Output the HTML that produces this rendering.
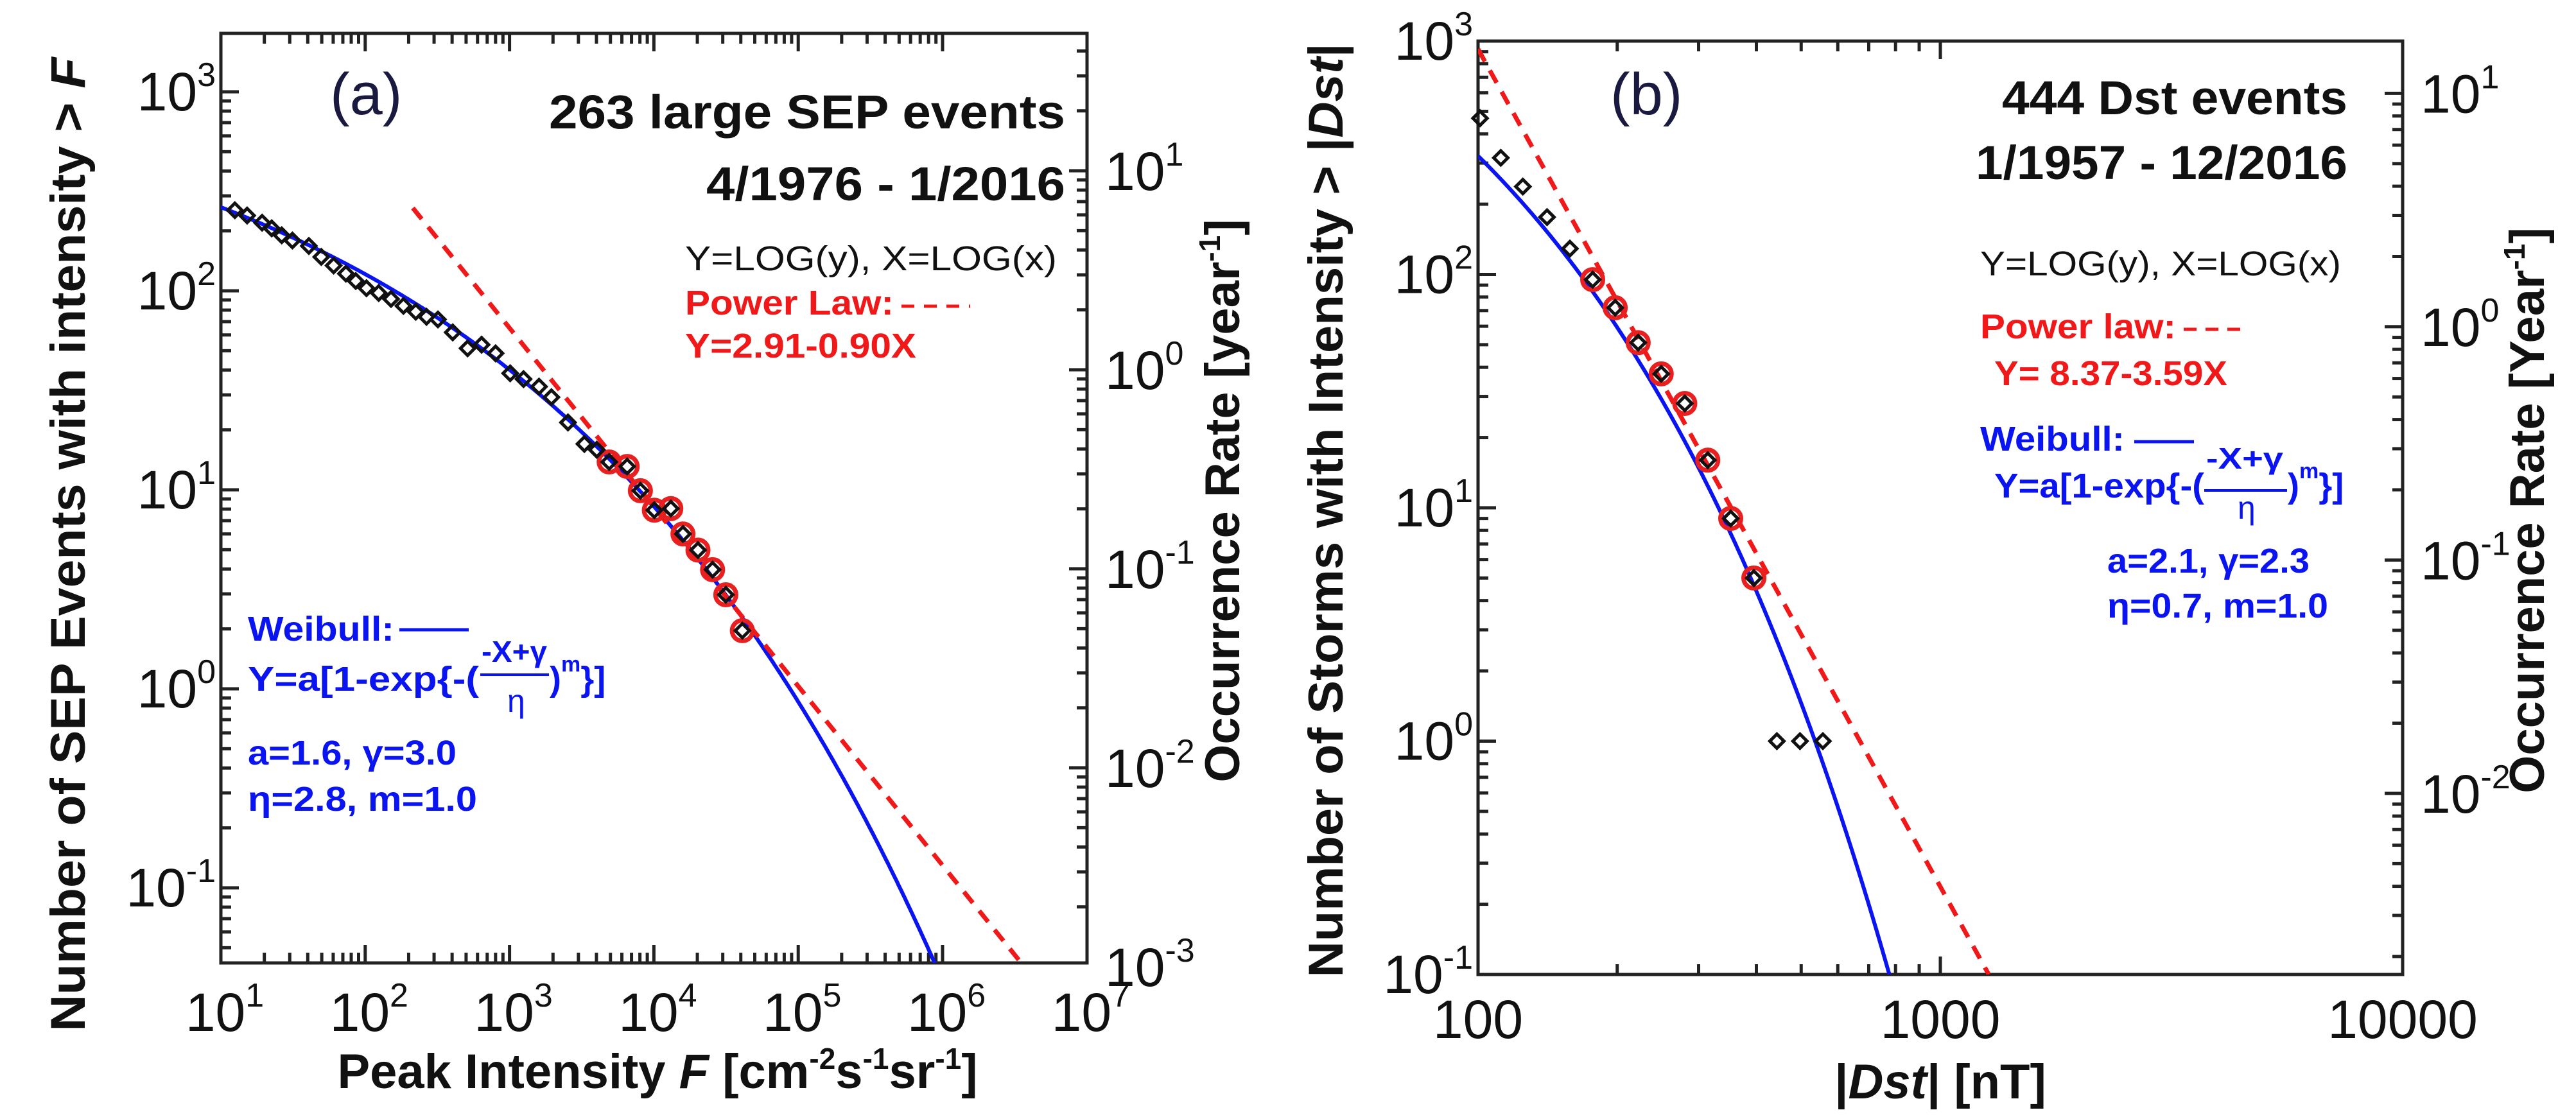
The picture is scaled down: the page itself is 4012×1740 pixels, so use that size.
<!DOCTYPE html>
<html><head><meta charset="utf-8">
<style>
html,body{margin:0;padding:0;background:#fff;width:4012px;height:1740px;overflow:hidden;}
svg{display:block;font-family:"Liberation Sans",Arial,sans-serif;}
</style></head>
<body>
<svg id="fig" xmlns="http://www.w3.org/2000/svg" width="4012" height="1740" viewBox="0 0 4012 1740">
<rect x="0" y="0" width="4012" height="1740" fill="#fff"/>
<defs>
<clipPath id="clipA"><rect x="344" y="52" width="1349" height="1448"/></clipPath>
<clipPath id="clipB"><rect x="2302" y="64" width="1440" height="1454"/></clipPath>
</defs>
<g id="gA"></g>
<g id="gB"></g>
</svg>
<script>
// ---------- Panel (a) data ----------
const aBlackX = [12.5,15.2,19.3,22.5,26.4,31.3,40.7,49.6,60.4,73.5,86,102,124,151,184,224,266,319,404,512,640,800,1010,1250,1600,1950,2540,3300,4020];
const aBlackY = [254,239,220,206,190,179,168,148,134,122,112,103,97.5,91,84,78.5,74,71.8,61.8,51.4,53.6,48.5,38.5,36,33,29.2,21.8,17,15.9];
const aRedX = [4900,6530,8060,10070,13100,15900,20200,25500,31500,41000];
const aRedY = [13.8,13.1,9.9,7.9,8.05,6.0,4.98,3.97,2.97,1.96];
const aPower = [2.91, -0.90];
const aWeibull = [1.6, 3.0, 2.8, 1.0];
const aYears = 40.1;
const aXTicks = [1,2,3,4,5,6,7];
const aYTicks = [-1,0,1,2,3];
const aRTicks = [-3,-2,-1,0,1];

// ---------- Panel (b) data ----------
const bBlackX = [101,112,125,141,158,443,497,557];
const bBlackY = [467,316,238,176,129,1,1,1];
const bRedX = [177,198,222,249,280,314,352,395];
const bRedY = [95,72,51,37.5,28,16,9,5];
const bPower = [8.37, -3.59];
const bWeibull = [2.1, 2.3, 0.7, 1.0];
const bYears = 59.7;
const bXTickLabels = ["100","1000","10000"];
const bXTicks = [100,1000,10000];
const bYTicks = [-1,0,1,2,3];
const bRTicks = [-2,-1,0,1];

const NS = "http://www.w3.org/2000/svg";
function mk(parent, tag, attrs){
  const e = document.createElementNS(NS, tag);
  for (const k in attrs) e.setAttribute(k, attrs[k]);
  parent.appendChild(e);
  return e;
}
const L = Math.log10;

function panel(g, P){
  const xs = v => P.x0 + (L(v) - P.lx0) * P.dx;
  const ys = v => P.yT + (P.ly0 - L(v)) * P.dy;
  const box = mk(g,'rect',{x:P.x0,y:P.top,width:P.x1-P.x0,height:P.bot-P.top,fill:'none',stroke:'#222','stroke-width':5});
  
  
  for (let d = P.xd0; d < P.xd1 + 1; d++){
    for (let m = 1; m <= 9; m++){
      const v = m * Math.pow(10, d);
      if (L(v) > P.xd1 + 1e-9) break;
      const x = xs(v);
      const len = m===1 ? 28 : 16;
      const t1 = mk(g,'line',{x1:x,y1:P.bot,x2:x,y2:P.bot-len,stroke:'#222','stroke-width':5});
      
      
      const t2 = mk(g,'line',{x1:x,y1:P.top,x2:x,y2:P.top+len,stroke:'#222','stroke-width':5});
      
      
    }
  }
  for (let d = -3; d <= 4; d++){
    for (let m = 1; m <= 9; m++){
      const v = m*Math.pow(10,d);
      const y = ys(v);
      if (y < P.top+2 || y > P.bot-2) continue;
      const len = m===1 ? 28 : 16;
      const t = mk(g,'line',{x1:P.x0,y1:y,x2:P.x0+len,y2:y,stroke:'#222','stroke-width':5});
      
      
    }
  }
  for (let d = -4; d <= 2; d++){
    for (let m = 1; m <= 9; m++){
      const r = m*Math.pow(10,d);
      const y = ys(r*P.years);
      if (y < P.top+2 || y > P.bot-2) continue;
      const len = m===1 ? 28 : 16;
      const t = mk(g,'line',{x1:P.x1,y1:y,x2:P.x1-len,y2:y,stroke:'#222','stroke-width':5});
      
      
    }
  }
  P.yTicks.forEach(e=>{
    const y = ys(Math.pow(10,e));
    const t = mk(g,'text',{x:P.x0-8,y:y+29,'text-anchor':'end','font-size':84,fill:'#111'});
    
    
    t.innerHTML = '10<tspan dy="-38" font-size="52">'+e+'</tspan>';
  });
  P.rTicks.forEach(e=>{
    const y = ys(Math.pow(10,e)*P.years);
    const t = mk(g,'text',{x:P.x1+28,y:y+30,'text-anchor':'start','font-size':84,fill:'#111'});
    
    
    t.innerHTML = '10<tspan dy="-38" font-size="52">'+e+'</tspan>';
  });
  const cg = mk(g,'g',{'clip-path':'url(#'+P.clip+')'});
  
  
  const off = L(P.years);
  let d='';
  for (let i=0;i<=800;i++){
    const X = P.lx0 + (P.xd1+1-P.lx0)*i/800;
    const [a,gm,eta,m] = P.weib;
    const Y = a*(1-Math.exp(-(gm-X)/eta));
    let py = P.yT + (P.ly0 - (Y+off)) * P.dy;
    const px = xs(Math.pow(10,X));
    if (py > P.bot){ d += 'L'+px.toFixed(1)+','+P.bot; break; }
    d += (i?'L':'M')+px.toFixed(1)+','+py.toFixed(1);
  }
  const wl = mk(cg,'path',{d:d,fill:'none',stroke:'#0a14f0','stroke-width':6});
  
  
  // power law: from pStart to where it hits bottom axis
  const lyBot = P.ly0 - (P.bot - P.yT)/P.dy;
  let X0 = P.pStart;
  let X1 = (lyBot - off - P.pow[0]) / P.pow[1];
  X1 = Math.min(X1, P.xd1+1);
  const pyOf = X => P.yT + (P.ly0 - (P.pow[0]+P.pow[1]*X+off)) * P.dy;
  const pl = mk(cg,'line',{x1:xs(Math.pow(10,X0)),y1:Math.max(pyOf(X0),P.top),x2:xs(Math.pow(10,X1)),y2:pyOf(X1),stroke:'#f01818','stroke-width':7,'stroke-dasharray':'22 16'});
  
  
  P.rx.forEach((v,i)=>{
    const c = mk(g,'circle',{cx:xs(v),cy:ys(P.ry[i]),r:16,fill:'none',stroke:'#e82020','stroke-width':7});
    
    
  });
  const allX = P.bx.concat(P.rx), allY = P.by.concat(P.ry);
  allX.forEach((v,i)=>{
    const x = xs(v), y = ys(allY[i]), s = 11;
    const p = mk(g,'path',{d:`M${x-s},${y}L${x},${y-s}L${x+s},${y}L${x},${y+s}Z`,fill:'none',stroke:'#111','stroke-width':5});
    
    
  });
  return {xs,ys};
}

function txt(g, x, y, html, attrs){
  const a = Object.assign({x:x,y:y,fill:'#111'}, attrs||{});
  const t = mk(g,'text',a);
  t.innerHTML = html;
  return t;
}

const gA = document.getElementById('gA');
const A = panel(gA,{x0:344,x1:1693,top:52,bot:1500,lx0:1,dx:224.8,yT:143,ly0:3,dy:310,
  xd0:1,xd1:6,years:aYears,yTicks:aYTicks,rTicks:aRTicks,clip:'clipA',weib:aWeibull,pow:aPower,pStart:2.33,
  bx:aBlackX,by:aBlackY,rx:aRedX,ry:aRedY});
aXTicks.forEach(e=>{
  const t = txt(gA, A.xs(Math.pow(10,e))+6, 1606, '10<tspan dy="-38" font-size="52">'+e+'</tspan>', {'text-anchor':'middle','font-size':84});
  
  
});
let t;
t = txt(gA,514,178,'(a)',{'font-size':92,fill:'#1a1a40'});  
t = txt(gA,855,200,'263 large SEP events',{'font-size':74,'font-weight':'bold',textLength:804,lengthAdjust:'spacingAndGlyphs'});  
t = txt(gA,1100,312,'4/1976 - 1/2016',{'font-size':74,'font-weight':'bold',textLength:559,lengthAdjust:'spacingAndGlyphs'});  
t = txt(gA,1067,421,'Y=LOG(y), X=LOG(x)',{'font-size':54,textLength:579,lengthAdjust:'spacingAndGlyphs'});  
t = txt(gA,1067,490,'Power Law:',{'font-size':54,'font-weight':'bold',fill:'#f01818',textLength:325,lengthAdjust:'spacingAndGlyphs'});  
t = mk(gA,'line',{x1:1404,y1:477,x2:1511,y2:477,stroke:'#f01818','stroke-width':5,'stroke-dasharray':'20 15'});  
t = txt(gA,1067,557,'Y=2.91-0.90X',{'font-size':54,'font-weight':'bold',fill:'#f01818',textLength:360,lengthAdjust:'spacingAndGlyphs'});  
t = txt(gA,386,998,'Weibull:',{'font-size':54,'font-weight':'bold',fill:'#0a14f0',textLength:228,lengthAdjust:'spacingAndGlyphs'});  
t = mk(gA,'line',{x1:622,y1:981,x2:730,y2:981,stroke:'#0a14f0','stroke-width':5});  
t = txt(gA,386,1076,'Y=a[1-exp{-(',{'font-size':54,'font-weight':'bold',fill:'#0a14f0',textLength:360,lengthAdjust:'spacingAndGlyphs'});  
t = txt(gA,750,1031,'-X+γ',{'font-size':46,'font-weight':'bold',fill:'#0a14f0',textLength:102,lengthAdjust:'spacingAndGlyphs'});  
t = mk(gA,'line',{x1:748,y1:1051,x2:855,y2:1051,stroke:'#0a14f0','stroke-width':4});  
t = txt(gA,790,1109,'η',{'font-size':50,fill:'#0a14f0'});  
t = txt(gA,856,1076,')<tspan dy="-30" font-size="34">m</tspan><tspan dy="30">}]</tspan>',{'font-size':54,'font-weight':'bold',fill:'#0a14f0'});  
t = txt(gA,386,1191,'a=1.6, γ=3.0',{'font-size':54,'font-weight':'bold',fill:'#0a14f0',textLength:325,lengthAdjust:'spacingAndGlyphs'});  
t = txt(gA,386,1263,'η=2.8, m=1.0',{'font-size':54,'font-weight':'bold',fill:'#0a14f0',textLength:357,lengthAdjust:'spacingAndGlyphs'});  
t = txt(gA,0,0,'Number of SEP Events with intensity &gt; <tspan font-style="italic">F</tspan>',{'font-size':76,'font-weight':'bold',transform:'translate(132,848) rotate(-90)','text-anchor':'middle',textLength:1517,lengthAdjust:'spacingAndGlyphs'});  
t = txt(gA,0,0,'Occurrence Rate [year<tspan dy="-30" font-size="46">-1</tspan><tspan dy="30">]</tspan>',{'font-size':76,'font-weight':'bold',transform:'translate(1930,780) rotate(-90)','text-anchor':'middle'});  
t = txt(gA,1024,1695,'Peak Intensity <tspan font-style="italic">F</tspan> [cm<tspan dy="-30" font-size="46">-2</tspan><tspan dy="30">s</tspan><tspan dy="-30" font-size="46">-1</tspan><tspan dy="30">sr</tspan><tspan dy="-30" font-size="46">-1</tspan><tspan dy="30">]</tspan>',{'font-size':76,'font-weight':'bold','text-anchor':'middle'});  

const gB = document.getElementById('gB');
const B = panel(gB,{x0:2302,x1:3742,top:64,bot:1518,lx0:2,dx:720,yT:64,ly0:3,dy:363.5,
  xd0:2,xd1:3,years:bYears,yTicks:bYTicks,rTicks:bRTicks,clip:'clipB',weib:bWeibull,pow:bPower,pStart:2.0,
  bx:bBlackX,by:bBlackY,rx:bRedX,ry:bRedY});
bXTicks.forEach((v,i)=>{
  const t = txt(gB, B.xs(v), 1617, bXTickLabels[i], {'text-anchor':'middle','font-size':84});
  
  
});
t = txt(gB,2508,178,'(b)',{'font-size':92,fill:'#1a1a40'});  
t = txt(gB,3118,178,'444 Dst events',{'font-size':74,'font-weight':'bold',textLength:538,lengthAdjust:'spacingAndGlyphs'});  
t = txt(gB,3077,279,'1/1957 - 12/2016',{'font-size':74,'font-weight':'bold',textLength:579,lengthAdjust:'spacingAndGlyphs'});  
t = txt(gB,3084,429,'Y=LOG(y), X=LOG(x)',{'font-size':54,textLength:562,lengthAdjust:'spacingAndGlyphs'});  
t = txt(gB,3084,527,'Power law:',{'font-size':54,'font-weight':'bold',fill:'#f01818',textLength:305,lengthAdjust:'spacingAndGlyphs'});  
t = mk(gB,'line',{x1:3401,y1:513,x2:3498,y2:513,stroke:'#f01818','stroke-width':5,'stroke-dasharray':'20 14'});  
t = txt(gB,3106,600,'Y= 8.37-3.59X',{'font-size':54,'font-weight':'bold',fill:'#f01818',textLength:363,lengthAdjust:'spacingAndGlyphs'});  
t = txt(gB,3084,702,'Weibull:',{'font-size':54,'font-weight':'bold',fill:'#0a14f0',textLength:225,lengthAdjust:'spacingAndGlyphs'});  
t = mk(gB,'line',{x1:3324,y1:688,x2:3417,y2:688,stroke:'#0a14f0','stroke-width':5});  
t = txt(gB,3106,775,'Y=a[1-exp{-(',{'font-size':54,'font-weight':'bold',fill:'#0a14f0',textLength:327,lengthAdjust:'spacingAndGlyphs'});  
t = txt(gB,3436,730,'-X+γ',{'font-size':46,'font-weight':'bold',fill:'#0a14f0',textLength:120,lengthAdjust:'spacingAndGlyphs'});  
t = mk(gB,'line',{x1:3433,y1:764,x2:3562,y2:764,stroke:'#0a14f0','stroke-width':4});  
t = txt(gB,3485,808,'η',{'font-size':50,fill:'#0a14f0'});  
t = txt(gB,3563,775,')<tspan dy="-30" font-size="34">m</tspan><tspan dy="30">}]</tspan>',{'font-size':54,'font-weight':'bold',fill:'#0a14f0'});  
t = txt(gB,3282,892,'a=2.1, γ=2.3',{'font-size':54,'font-weight':'bold',fill:'#0a14f0',textLength:315,lengthAdjust:'spacingAndGlyphs'});  
t = txt(gB,3282,962,'η=0.7, m=1.0',{'font-size':54,'font-weight':'bold',fill:'#0a14f0',textLength:344,lengthAdjust:'spacingAndGlyphs'});  
t = txt(gB,0,0,'Number of Storms with Intensity &gt; |<tspan font-style="italic">Dst</tspan>|',{'font-size':76,'font-weight':'bold',transform:'translate(2091,795) rotate(-90)','text-anchor':'middle',textLength:1455,lengthAdjust:'spacingAndGlyphs'});  
t = txt(gB,0,0,'Occurrence Rate [Year<tspan dy="-30" font-size="46">-1</tspan><tspan dy="30">]</tspan>',{'font-size':76,'font-weight':'bold',transform:'translate(3962,795) rotate(-90)','text-anchor':'middle'});  
t = txt(gB,3022,1711,'|<tspan font-style="italic">Dst</tspan>| [nT]',{'font-size':76,'font-weight':'bold','text-anchor':'middle'});  
</script>
</body></html>
